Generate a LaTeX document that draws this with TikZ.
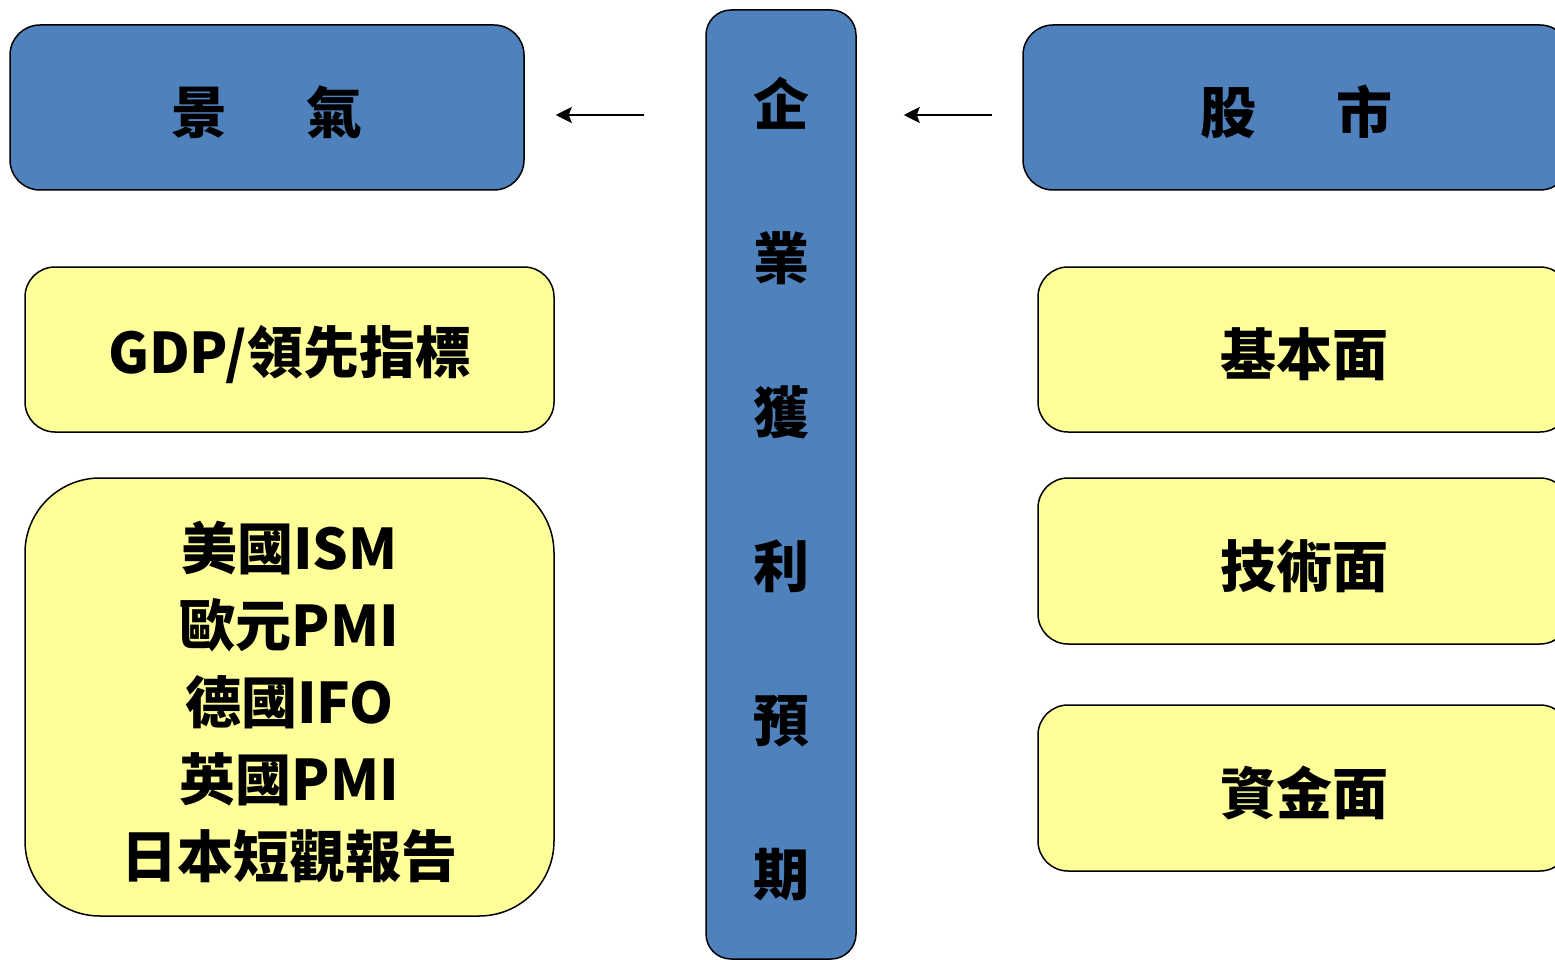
\documentclass[tikz,border=0pt]{standalone}
\usepackage{fontspec}
\newfontfamily\cjk{Noto Sans CJK TC}
\usetikzlibrary{arrows.meta}
\definecolor{boxblue}{HTML}{4F81BD}
\definecolor{boxyellow}{HTML}{FFFF99}
\newcommand\lift{\rule{0pt}{58pt}}
\tikzset{
  bluebox/.style={draw=black, line width=1.5pt, fill=boxblue, rounded corners=30pt,
    font=\cjk\bfseries\fontsize{56}{60}\selectfont},
  yellowbox/.style={draw=black, line width=1.5pt, fill=boxyellow, rounded corners=30pt,
    font=\cjk\bfseries\fontsize{56}{77}\selectfont, align=center},
  arrow/.style={-{Stealth[length=16pt,width=16pt,inset=3pt]}, line width=2pt}
}
\begin{document}
\begin{tikzpicture}[x=1pt,y=-1pt]
\useasboundingbox (0,0) rectangle (1555,960);
% top row
\node [bluebox, minimum width=514pt, minimum height=165pt] (jingqi) at (267,107.5) {\lift 景\hspace{80pt}氣};
\node [bluebox, minimum width=547pt, minimum height=165pt] (gushi) at (1296.5,107.5) {\lift 股\hspace{80pt}市};
\node [bluebox, rounded corners=25pt, minimum width=150pt, minimum height=949pt, align=center,
  font=\cjk\bfseries\fontsize{56}{154}\selectfont] (qiye) at (781,484.5)
  {\lift 企\\業\\獲\\利\\預\\期};
% left column
\node [yellowbox, minimum width=529pt, minimum height=165pt] (gdp) at (289.5,349.5) {\lift GDP/領先指標};
\node [yellowbox, rounded corners=75pt, minimum width=529pt, minimum height=438pt] (pmi) at (289.5,697)
  {\lift 美國ISM\\歐元PMI\\德國IFO\\英國PMI\\日本短觀報告};
% right column
\node [yellowbox, minimum width=532pt, minimum height=165pt] (jiben) at (1304,349.5) {\lift 基本面};
\node [yellowbox, minimum width=532pt, minimum height=166pt] (jishu) at (1304,561) {\lift 技術面};
\node [yellowbox, minimum width=532pt, minimum height=166pt] (zijin) at (1304,788) {\lift 資金面};
% arrows
\draw [arrow, shorten <=61pt, shorten >=31pt] (qiye.west |- 0,115) -- (jingqi.east |- 0,115);
\draw [arrow, shorten <=30pt, shorten >=47pt] (gushi.west |- 0,115) -- (qiye.east |- 0,115);
\end{tikzpicture}
\end{document}
